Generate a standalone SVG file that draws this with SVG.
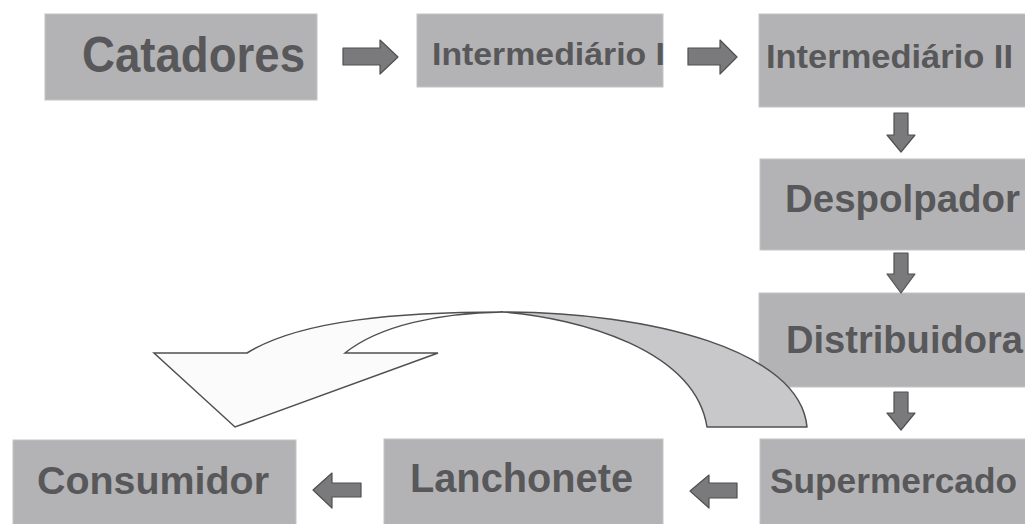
<svg xmlns="http://www.w3.org/2000/svg" width="1025" height="524" viewBox="0 0 1025 524">
<style>
.box{fill:#b3b3b5;stroke:#c4c4c6;stroke-width:1}
.lbl{font-family:"Liberation Sans",Arial,sans-serif;font-weight:bold;fill:#58585a}
.arr{fill:#7a7a7c;stroke:#505052;stroke-width:1.2;stroke-linejoin:round}
.curveA{fill:#c8c8ca;stroke:#505052;stroke-width:1.5;stroke-linejoin:round}
.curveB{fill:#fbfbfb;stroke:#505052;stroke-width:1.5;stroke-linejoin:miter}
</style>
<rect width="1025" height="524" fill="#ffffff"/>
<g id="catadores"><rect class="box" x="45" y="14" width="272" height="86"/><text class="lbl" x="82" y="72" font-size="50" textLength="223" lengthAdjust="spacingAndGlyphs">Catadores</text></g>
<g id="intermediario1"><rect class="box" x="417" y="14" width="246" height="73"/><text class="lbl" x="432" y="65" font-size="32" textLength="233" lengthAdjust="spacingAndGlyphs">Intermediário I</text></g>
<g id="intermediario2"><rect class="box" x="759" y="14" width="270" height="93"/><text class="lbl" x="766" y="68" font-size="34" textLength="247" lengthAdjust="spacingAndGlyphs">Intermediário II</text></g>
<g id="despolpador"><rect class="box" x="760" y="159" width="270" height="91"/><text class="lbl" x="785" y="212" font-size="38" textLength="235" lengthAdjust="spacingAndGlyphs">Despolpador</text></g>
<g id="distribuidora"><rect class="box" x="759" y="293" width="270" height="94"/><text class="lbl" x="786" y="353" font-size="38" textLength="237" lengthAdjust="spacingAndGlyphs">Distribuidora</text></g>
<g id="supermercado"><rect class="box" x="760" y="439" width="270" height="90"/><text class="lbl" x="770" y="493" font-size="35" textLength="247" lengthAdjust="spacingAndGlyphs">Supermercado</text></g>
<g id="lanchonete"><rect class="box" x="384" y="439" width="279" height="90"/><text class="lbl" x="410" y="492" font-size="40" textLength="223" lengthAdjust="spacingAndGlyphs">Lanchonete</text></g>
<g id="consumidor"><rect class="box" x="13" y="440" width="283" height="90"/><text class="lbl" x="37" y="494" font-size="38" textLength="232" lengthAdjust="spacingAndGlyphs">Consumidor</text></g>
<g id="connectors">
<polygon class="arr" points="343,48 380,48 380,40 398,57 380,74 380,65 343,65"/>
<polygon class="arr" points="688,48 720,48 720,40 737,57 720,74 720,65 688,65"/>
<polygon class="arr" points="894,113 908,113 908,135 915,135 901,152 887,135 894,135"/>
<polygon class="arr" points="894,253 908,253 908,274 915,274 901,293 887,274 894,274"/>
<polygon class="arr" points="894,392 908,392 908,413 915,413 901,430 887,413 894,413"/>
<polygon class="arr" points="737,483 709,483 709,475 690,491 709,508 709,498 737,498"/>
<polygon class="arr" points="361,483 332,483 332,473 313,490 332,508 332,497 361,497"/>
<path class="curveA" d="M503,312 C650,312 800,350 807,427 L707,427 C695,350 580,318 503,312 Z"/>
<path class="curveB" d="M503,312 C400,312 300,320 247,353 L154,353 L235,427 L438,353 L345,353 C380,325 440,313 503,312 Z"/>
</g>
</svg>
